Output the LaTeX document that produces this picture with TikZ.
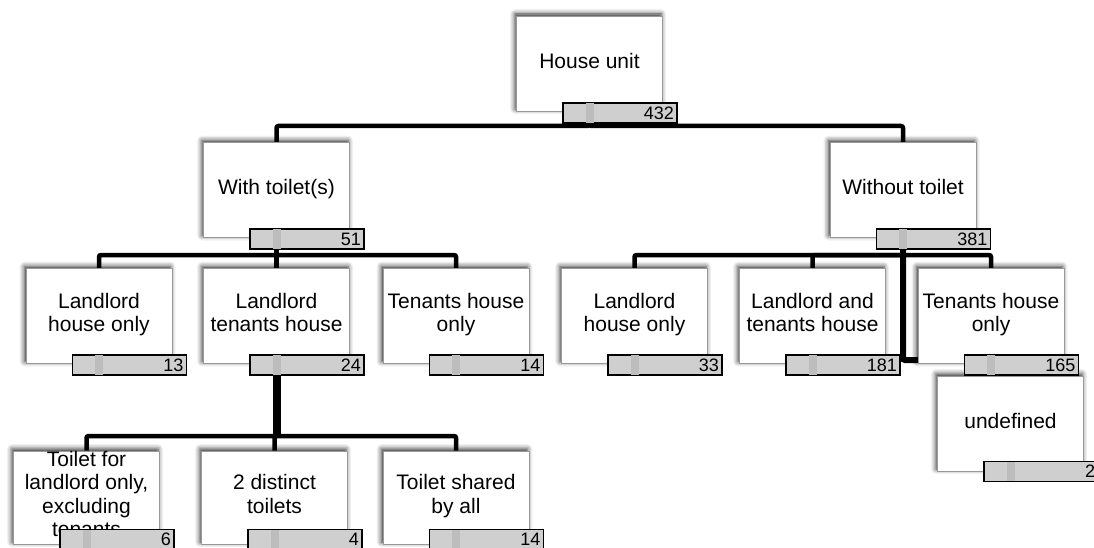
\documentclass[tikz,border=0pt]{standalone}
\usepackage{fontspec}
\setmainfont{Liberation Sans}
\usetikzlibrary{calc,shadows.blur}
\pgfdeclarelayer{links}
\pgfsetlayers{links,main}
\tikzset{
  unitbox/.style={draw=black!40, line width=0.8pt, fill=white,
    minimum width=146pt, minimum height=95pt, inner sep=0pt, align=center,
    font=\fontsize{21}{23.5}\selectfont,
    execute at begin node=\strut, execute at end node=\strut,
    blur shadow={shadow xshift=-1.5pt, shadow yshift=2pt,
      shadow blur radius=5pt, shadow opacity=85}},
  countbar/.style={draw=black, line width=1.3pt, fill=black!19,
    minimum width=114pt, minimum height=20pt, inner sep=0pt,
    text width=108pt, align=right, font=\fontsize{18}{18}\selectfont},
  stub/.style={fill=black!26},
  link/.style={line width=4.5pt, rounded corners=2pt},
}
% count bar hanging under a box, with a marker at the box centre
\newcommand\countbar[4]{% box, bar name, count, yshift
  \node[countbar] (#2) at ([xshift=30.5pt,yshift=#4]#1.south) {#3};
  \fill[stub] ($(#1.south |- #2.north)+(-4,0.8)$) rectangle ($(#1.south |- #2.south)+(4,-0.8)$);
}
\begin{document}
\begin{tikzpicture}[x=1pt,y=-1pt]
\useasboundingbox (0,0) rectangle (1094,548);

% levels of the tree
\coordinate (y1) at (0,126);
\coordinate (y2) at (0,255);
\coordinate (y3) at (0,436);
\coordinate (yu) at (0,360);

% boxes
\node[unitbox] (root) at (589.5,63.5) {House unit};
\node[unitbox] (with) at (276.5,190) {With toilet(s)};
\node[unitbox] (wout) at (903,190) {Without toilet};

\node[unitbox] (wlh) at (99,316) {Landlord\\house only};
\node[unitbox] (wlt) at (276.5,316) {Landlord\\tenants house};
\node[unitbox] (wth) at (456,316) {Tenants house\\only};

\node[unitbox] (olh) at (634.5,316) {Landlord\\house only};
\node[unitbox] (olt) at (812.5,316) {Landlord and\\tenants house};
\node[unitbox] (oth) at (991,316) {Tenants house\\only};

\node[unitbox] (undef) at (1010.5,423.5) {undefined};

\node[unitbox, minimum height=93pt] (tlo) at (86.5,497.5) {Toilet for\\landlord only,\\excluding\\tenants};
\node[unitbox, minimum height=93pt] (tdt) at (274.5,497.5) {2 distinct\\toilets};
\node[unitbox, minimum height=93pt] (tsa) at (456,497.5) {Toilet shared\\by all};

% count bars
\countbar{root}{nroot}{432}{-1.5pt}
\countbar{with}{nwith}{51}{-1pt}
\countbar{wout}{nwout}{381}{-1pt}
\countbar{wlh}{nwlh}{13}{-1pt}
\countbar{wlt}{nwlt}{24}{-1pt}
\countbar{wth}{nwth}{14}{-1pt}
\countbar{olh}{nolh}{33}{-1pt}
\countbar{olt}{nolt}{181}{-1pt}
\countbar{oth}{noth}{165}{-1pt}
\countbar{undef}{nundef}{2}{0pt}
\countbar{tlo}{ntlo}{6}{5pt}
\countbar{tdt}{ntdt}{4}{5pt}
\countbar{tsa}{ntsa}{14}{5pt}

% connectors, kept beneath the boxes
\begin{pgfonlayer}{links}
  \draw[link] (root.south) -- (root.south |- y1) -| (with.north);
  \draw[link] (root.south) -- (root.south |- y1) -| (wout.north);

  \draw[link] (with.south) -- (with.south |- y2) -| (wlh.north);
  \draw[link] (with.south) -- (with.south |- y2) -| (wlt.north);
  \draw[link] (with.south) -- (with.south |- y2) -| (wth.north);

  \draw[link] (wout.south) -- (wout.south |- y2) -| (olh.north);
  \draw[link] (wout.south) -- (wout.south |- y2) -| (olt.north);
  \draw[link] (wout.south) -- (wout.south |- y2) -| (oth.north);
  \draw[line width=6pt, rounded corners=2pt] (wout.south) -- (wout.south |- yu) -| (undef.north);

  \draw[line width=8pt] (wlt.south) -- (wlt.south |- y3);
  \draw[link] (wlt.south |- y3) -| (tlo.north);
  \draw[link] (wlt.south |- y3) -| (tdt.north);
  \draw[link] (wlt.south |- y3) -| (tsa.north);
\end{pgfonlayer}
\end{tikzpicture}
\end{document}
